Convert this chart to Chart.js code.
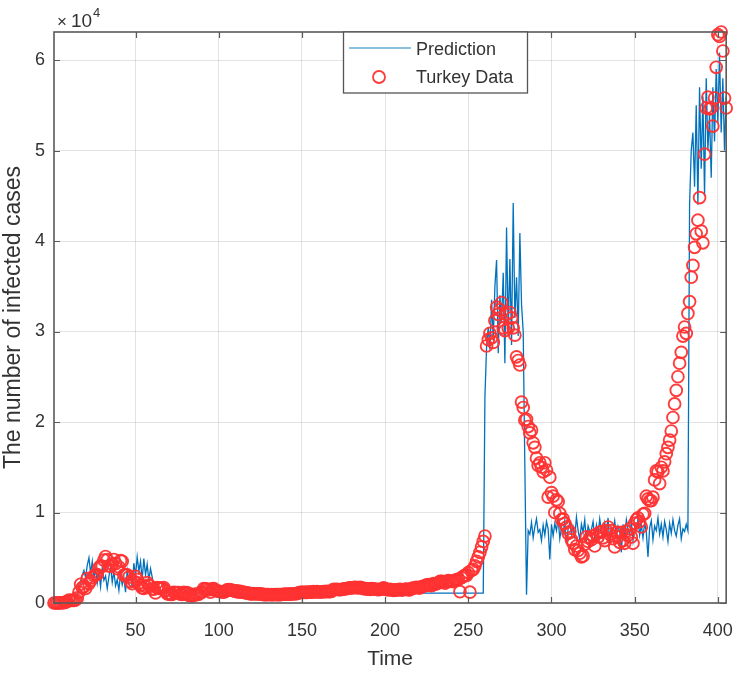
<!DOCTYPE html>
<html><head><meta charset="utf-8">
<script src="https://cdn.jsdelivr.net/npm/chart.js@4/dist/chart.umd.min.js"></script>
<style>html,body{margin:0;padding:0;background:#fff;}#wrap{width:750px;height:673px;position:relative;}</style>
</head><body><div id="wrap"><canvas id="c" width="750" height="673"></canvas></div>
<script>
const seriesNames = ['Prediction', 'Turkey Data'];
const xTitle = 'Time';
const yTitle = 'The number of infected cases';
const yExponent = '4';
const firstDay = 1;
const lastDay = 405;
const xTicks = [50, 100, 150, 200, 250, 300, 350, 400];
const yTicks = [0, 10000, 20000, 30000, 40000, 50000, 60000];
const yTickLabels = ['0', '1', '2', '3', '4', '5', '6'];

const prediction = [
0,0,0,0,0,0,0,0,0,0,
100,200,300,500,800,1500,2400,3100,3600,2800,
4200,5000,3300,4600,2700,3800,2200,3400,1800,3900,
2500,3000,1600,2900,4100,2300,3500,1900,2600,1400,
3200,2000,2800,1200,3600,2400,3300,1700,4400,3000,
5100,3500,4600,2600,4900,3100,4300,2500,3800,2900,
1800,1100,1100,1100,1100,1100,1100,1100,1100,1100,
1100,1100,1100,1100,1100,1100,1100,1100,1100,1100,
1100,1100,1100,1100,1100,1100,1100,1100,1100,1100,
1100,1100,1100,1100,1100,1100,1100,1100,1100,1100,
1100,1100,1100,1100,1100,1100,1100,1100,1100,1100,
1100,1100,1100,1100,1100,1100,1100,1100,1100,1100,
1100,1100,1100,1100,1100,1100,1100,1100,1100,1100,
1100,1100,1100,1100,1100,1100,1100,1100,1100,1100,
1100,1100,1100,1100,1100,1100,1100,1100,1100,1100,
1100,1100,1100,1100,1100,1100,1100,1100,1100,1100,
1100,1100,1100,1100,1100,1100,1100,1100,1100,1100,
1100,1100,1100,1100,1100,1100,1100,1100,1100,1100,
1100,1100,1100,1100,1100,1100,1100,1100,1100,1100,
1100,1100,1100,1100,1100,1100,1100,1100,1100,1100,
1100,1100,1100,1100,1100,1100,1100,1100,1100,1100,
1100,1100,1100,1100,1100,1100,1100,1100,1100,1100,
1100,1100,1100,1100,1100,1100,1100,1100,1100,1100,
1100,1100,1100,1100,1100,1100,1100,1100,1100,1100,
1100,1100,1100,1100,1100,1100,1100,1100,1100,1100,
1100,1100,1100,1100,1100,1100,1100,1100,1100,22800,
28300,30500,28000,33500,29000,35000,37900,27600,34000,31000,
36500,26500,41500,30000,38000,28500,44200,31500,36000,29500,
40900,33000,30000,15000,900,8000,7600,8900,7200,8400,
9300,7800,8100,6900,8600,7500,9000,8200,4800,8700,
7400,8800,8000,9400,7100,8300,7700,9100,6500,8200,
8900,7600,8400,7300,9500,8000,7000,8700,7800,9200,
6800,8500,7900,8100,9000,7200,8600,7500,9300,8000,
7100,8800,7700,9400,6600,8300,8000,9100,7400,8500,
7900,5600,8700,7300,9200,8100,7600,9000,6900,8400,
8000,9300,7500,8600,7200,8900,7800,5100,8300,9100,
7000,8500,8000,9400,7600,8700,7300,9000,8100,6800,
8800,7700,9200,8000,7400,8600,9300,7100,8200,7900,
8700,8000,44000,50000,52000,46000,55000,44000,57000,48000,
56000,45000,58000,50000,54000,47000,57000,51000,59000,53000,
60800,52000,58000,50000,56000
];

const turkeyData = [
1,0,4,1,12,29,51,93,168,311,
277,289,293,343,561,1196,2069,1704,1815,1610,
2704,2148,2456,2786,3013,3135,3148,3892,4117,4056,
4747,5138,4789,4093,4062,4281,4801,4353,3783,3977,
4674,4611,3083,3116,3122,2861,2357,2131,2392,2936,
2615,2188,1983,1670,1614,1832,2253,1977,1848,1546,
1542,1114,1704,1612,1639,1635,1708,1368,1022,972,
961,952,1186,1141,1141,1158,987,948,1182,1035,
1141,839,983,786,867,988,930,989,1141,1195,
1592,1562,1542,1459,1195,1562,1592,1429,1304,1301,
1248,1214,1212,1290,1458,1492,1458,1396,1374,1293,
1356,1192,1285,1192,1172,1148,1083,1086,1016,1001,
1041,1024,1008,1012,999,989,933,926,932,939,
913,928,912,937,924,917,930,939,965,987,
966,989,982,992,1011,1020,1026,1127,1183,1185,
1178,1171,1173,1192,1194,1212,1263,1226,1256,1213,
1218,1220,1266,1256,1294,1252,1263,1305,1502,1494,
1517,1483,1466,1505,1527,1572,1596,1642,1671,1671,
1693,1717,1698,1660,1716,1673,1592,1596,1562,1542,
1512,1592,1562,1520,1510,1488,1501,1537,1661,1583,
1496,1451,1516,1455,1391,1412,1456,1477,1497,1426,
1490,1502,1530,1439,1479,1606,1629,1701,1743,1661,
1656,1810,1850,1906,1992,2025,1938,1927,2132,2084,
2143,2227,2384,2387,2361,2203,2379,2469,2400,2410,
2357,2504,2589,2611,1250,2808,2956,3067,3054,3357,
1200,3614,3709,4100,4600,5100,5600,6200,6800,7400,
28400,29100,29800,29300,28800,31200,32700,31900,32400,33200,
30400,30100,31900,30400,32100,31500,30400,29600,27200,26800,
26300,22200,21600,20200,20300,19500,18800,19100,17700,17200,
16000,15200,15500,15000,14500,15500,14700,11700,13900,12200,
11800,10000,11400,11200,9900,9200,9300,8800,8400,7700,
7900,7000,6600,5900,6300,5800,5500,5100,5200,6500,
7300,6800,7200,7000,7400,6300,7600,7300,7800,7900,
7200,6900,8000,8400,7600,8000,7100,6200,7800,7300,
6700,7800,6900,6600,7900,7500,8200,7300,6600,8800,
9200,9400,9000,8400,9800,9900,11800,11500,11300,11300,
11700,13600,14600,14500,13200,15000,14600,15600,16500,17200,
18000,19000,20500,22000,23500,25000,26500,27700,29500,30500,
29800,32000,33300,36000,37300,39300,40800,42300,44800,41100,
39800,49600,54700,55900,54600,54700,52700,55800,59200,62800,
62600,63100,61000,55800,54700
];

const nDays = lastDay - firstDay + 1;
if (prediction.length !== nDays) throw new Error('prediction length ' + prediction.length);
if (turkeyData.length !== nDays) throw new Error('turkeyData length ' + turkeyData.length);

const toPoints = arr => arr.map((v, i) => ({ x: firstDay + i, y: v }));

const FONT = "'Liberation Sans', Arial, Helvetica, sans-serif";
const TEXT = '#333333';
const AXIS = '#5a5a5a';
const BLUE = '#0072BD';
const RED = 'rgba(255,50,50,0.95)';

const matlabBox = {
  id: 'matlabBox',
  afterDraw(chart) {
    const ctx = chart.ctx;
    const ca = chart.chartArea;
    const xs = chart.scales.x, ys = chart.scales.y;
    ctx.save();
    ctx.strokeStyle = AXIS;
    ctx.lineWidth = 1.2;
    const tl = 6;
    ctx.beginPath();
    xTicks.forEach(v => {
      const px = Math.round(xs.getPixelForValue(v)) + 0.5;
      ctx.moveTo(px, ca.bottom); ctx.lineTo(px, ca.bottom - tl);
      ctx.moveTo(px, ca.top); ctx.lineTo(px, ca.top + tl);
    });
    yTicks.forEach(v => {
      const py = Math.round(ys.getPixelForValue(v)) + 0.5;
      ctx.moveTo(ca.left, py); ctx.lineTo(ca.left + tl, py);
      ctx.moveTo(ca.right, py); ctx.lineTo(ca.right - tl, py);
    });
    ctx.stroke();
    ctx.lineWidth = 1.6;
    ctx.strokeRect(ca.left, ca.top, ca.right - ca.left, ca.bottom - ca.top);

    ctx.fillStyle = TEXT;
    ctx.textBaseline = 'alphabetic';
    ctx.textAlign = 'left';
    ctx.font = '17px ' + FONT;
    ctx.fillText('\u00d7', ca.left + 3, ca.top - 5);
    ctx.font = '19px ' + FONT;
    ctx.fillText('10', ca.left + 17, ca.top - 5);
    ctx.font = '13px ' + FONT;
    ctx.fillText(yExponent, ca.left + 39, ca.top - 15);

    const lx = 343, ly = ca.top, lw = 184, lh = 61;
    ctx.fillStyle = '#ffffff';
    ctx.fillRect(lx, ly, lw, lh);
    ctx.strokeStyle = '#555555';
    ctx.lineWidth = 1.3;
    ctx.strokeRect(lx + 0.5, ly, lw, lh);
    ctx.strokeStyle = BLUE;
    ctx.globalAlpha = 0.6;
    ctx.lineWidth = 1.5;
    ctx.beginPath(); ctx.moveTo(lx + 6, ly + 16); ctx.lineTo(lx + 68, ly + 16); ctx.stroke();
    ctx.globalAlpha = 1;
    ctx.strokeStyle = RED;
    ctx.lineWidth = 1.8;
    ctx.beginPath(); ctx.arc(lx + 36, ly + 45, 6, 0, Math.PI * 2); ctx.stroke();
    ctx.fillStyle = TEXT;
    ctx.font = '18px ' + FONT;
    ctx.textBaseline = 'middle';
    ctx.fillText(seriesNames[0], lx + 73, ly + 18);
    ctx.fillText(seriesNames[1], lx + 73, ly + 46);
    ctx.restore();
  }
};

new Chart(document.getElementById('c'), {
  type: 'scatter',
  data: {
    datasets: [
      {
        label: seriesNames[0],
        data: toPoints(prediction),
        showLine: true,
        borderColor: BLUE,
        backgroundColor: BLUE,
        borderWidth: 1.3,
        pointRadius: 0,
        tension: 0,
        order: 2
      },
      {
        label: seriesNames[1],
        data: toPoints(turkeyData),
        showLine: false,
        pointStyle: 'circle',
        pointRadius: 5.9,
        borderColor: RED,
        backgroundColor: 'rgba(0,0,0,0)',
        borderWidth: 1.9,
        clip: false,
        order: 1
      }
    ]
  },
  options: {
    responsive: false,
    animation: false,
    devicePixelRatio: 1,
    layout: { padding: { top: 32, right: 10, bottom: 0, left: 0 } },
    plugins: { legend: { display: false }, tooltip: { enabled: false } },
    scales: {
      x: {
        type: 'linear',
        min: firstDay,
        max: lastDay,
        afterBuildTicks: s => { s.ticks = xTicks.map(v => ({ value: v })); },
        afterFit: s => { s.height = 70; },
        ticks: { font: { family: FONT, size: 18 }, color: TEXT, padding: 17, maxRotation: 0, autoSkip: false },
        grid: { color: 'rgba(0,0,0,0.11)', drawTicks: false, lineWidth: 1 },
        border: { display: false },
        title: { display: true, text: xTitle, font: { family: FONT, size: 21 }, color: TEXT, padding: { top: 0, bottom: 1 } }
      },
      y: {
        type: 'linear',
        min: 0,
        max: 63100,
        afterBuildTicks: s => { s.ticks = yTicks.map(v => ({ value: v })); },
        afterFit: s => { s.width = 54; },
        ticks: {
          font: { family: FONT, size: 18 }, color: TEXT, padding: 9, autoSkip: false,
          callback: v => yTickLabels[yTicks.indexOf(v)]
        },
        grid: { color: 'rgba(0,0,0,0.11)', drawTicks: false, lineWidth: 1 },
        border: { display: false },
        title: { display: true, text: yTitle, font: { family: FONT, size: 23 }, color: TEXT, padding: { top: 0, bottom: 0 } }
      }
    }
  },
  plugins: [matlabBox]
});
</script>
</body></html>
